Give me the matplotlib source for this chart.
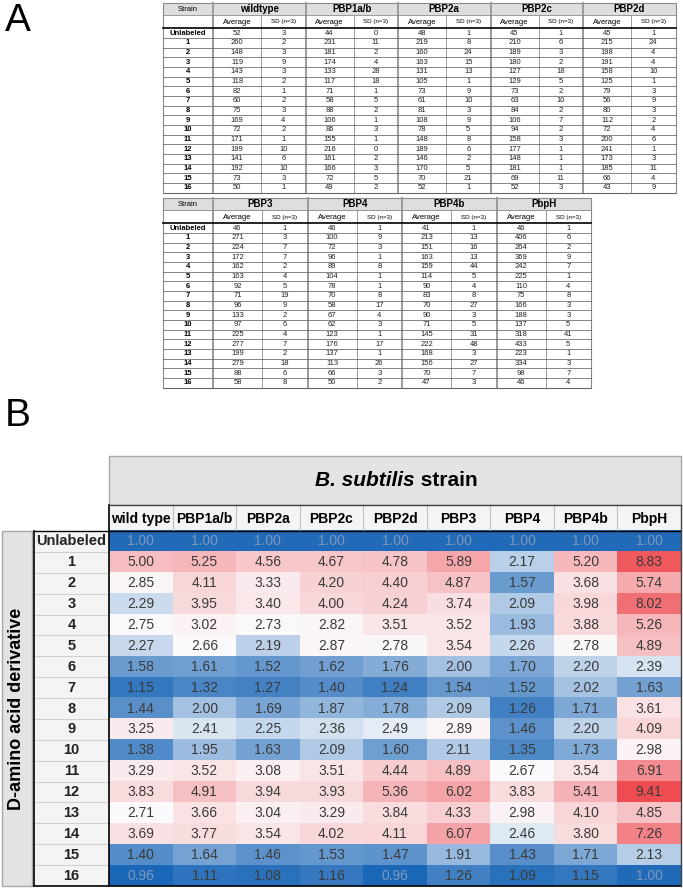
import numpy as np
import matplotlib
matplotlib.use('Agg')
import matplotlib.pyplot as plt
from matplotlib.colors import LinearSegmentedColormap, TwoSlopeNorm
from matplotlib.patches import Rectangle

plt.rcParams['font.family'] = ['Liberation Sans', 'DejaVu Sans']

row_labels = ['Unlabeled'] + [str(i) for i in range(1, 17)]

# Panel A, first table
strains_a1 = ['wildtype', 'PBP1a/b', 'PBP2a', 'PBP2c', 'PBP2d']
avg_wt = [52, 260, 148, 119, 143, 118, 82, 60, 75, 169, 72, 171, 199, 141, 192, 73, 50]
sd_wt = [3, 2, 3, 9, 3, 2, 1, 2, 3, 4, 2, 1, 10, 6, 10, 3, 1]
avg_1ab = [44, 231, 181, 174, 133, 117, 71, 58, 88, 106, 86, 155, 216, 161, 166, 72, 49]
sd_1ab = [0, 11, 2, 4, 28, 18, 1, 5, 2, 1, 3, 1, 0, 2, 3, 5, 2]
avg_2a = [48, 219, 160, 163, 131, 105, 73, 61, 81, 108, 78, 148, 189, 146, 170, 70, 52]
sd_2a = [1, 8, 24, 15, 13, 1, 9, 10, 3, 9, 5, 8, 6, 2, 5, 21, 1]
avg_2c = [45, 210, 189, 180, 127, 129, 73, 63, 84, 106, 94, 158, 177, 148, 181, 69, 52]
sd_2c = [1, 6, 3, 2, 18, 5, 2, 10, 2, 7, 2, 3, 1, 1, 1, 11, 3]
avg_2d = [45, 215, 198, 191, 158, 125, 79, 56, 80, 112, 72, 200, 241, 173, 185, 66, 43]
sd_2d = [1, 24, 4, 4, 10, 1, 3, 9, 3, 2, 4, 6, 1, 3, 11, 4, 9]

# Panel A, second table
strains_a2 = ['PBP3', 'PBP4', 'PBP4b', 'PbpH']
avg_3 = [46, 271, 224, 172, 162, 163, 92, 71, 96, 133, 97, 225, 277, 199, 279, 88, 58]
sd_3 = [1, 3, 7, 7, 2, 4, 5, 19, 9, 2, 6, 4, 7, 2, 18, 6, 8]
avg_4 = [46, 100, 72, 96, 89, 104, 78, 70, 58, 67, 62, 123, 176, 137, 113, 66, 50]
sd_4 = [1, 9, 3, 1, 8, 1, 1, 8, 17, 4, 3, 1, 17, 1, 26, 3, 2]
avg_4b = [41, 213, 151, 163, 159, 114, 90, 83, 70, 90, 71, 145, 222, 168, 156, 70, 47]
sd_4b = [1, 13, 16, 13, 44, 5, 4, 8, 27, 3, 5, 31, 48, 3, 27, 7, 3]
avg_h = [46, 406, 264, 369, 242, 225, 110, 75, 166, 188, 137, 318, 433, 223, 334, 98, 46]
sd_h = [1, 6, 2, 9, 7, 1, 4, 8, 3, 3, 5, 41, 5, 1, 3, 7, 4]

# Panel B, fold labeling over unlabeled
strains_b = ['wild type', 'PBP1a/b', 'PBP2a', 'PBP2c', 'PBP2d', 'PBP3', 'PBP4', 'PBP4b', 'PbpH']
fold = [
    [1.00, 1.00, 1.00, 1.00, 1.00, 1.00, 1.00, 1.00, 1.00],
    [5.00, 5.25, 4.56, 4.67, 4.78, 5.89, 2.17, 5.20, 8.83],
    [2.85, 4.11, 3.33, 4.20, 4.40, 4.87, 1.57, 3.68, 5.74],
    [2.29, 3.95, 3.40, 4.00, 4.24, 3.74, 2.09, 3.98, 8.02],
    [2.75, 3.02, 2.73, 2.82, 3.51, 3.52, 1.93, 3.88, 5.26],
    [2.27, 2.66, 2.19, 2.87, 2.78, 3.54, 2.26, 2.78, 4.89],
    [1.58, 1.61, 1.52, 1.62, 1.76, 2.00, 1.70, 2.20, 2.39],
    [1.15, 1.32, 1.27, 1.40, 1.24, 1.54, 1.52, 2.02, 1.63],
    [1.44, 2.00, 1.69, 1.87, 1.78, 2.09, 1.26, 1.71, 3.61],
    [3.25, 2.41, 2.25, 2.36, 2.49, 2.89, 1.46, 2.20, 4.09],
    [1.38, 1.95, 1.63, 2.09, 1.60, 2.11, 1.35, 1.73, 2.98],
    [3.29, 3.52, 3.08, 3.51, 4.44, 4.89, 2.67, 3.54, 6.91],
    [3.83, 4.91, 3.94, 3.93, 5.36, 6.02, 3.83, 5.41, 9.41],
    [2.71, 3.66, 3.04, 3.29, 3.84, 4.33, 2.98, 4.10, 4.85],
    [3.69, 3.77, 3.54, 4.02, 4.11, 6.07, 2.46, 3.80, 7.26],
    [1.40, 1.64, 1.46, 1.53, 1.47, 1.91, 1.43, 1.71, 2.13],
    [0.96, 1.11, 1.08, 1.16, 0.96, 1.26, 1.09, 1.15, 1.00],
]


def draw_table(ax, x0, y0, strains, avgs, sds, label_w=50, group_w=92.5,
               h1=12.5, h2=13, rh=9.65):
    n = len(row_labels)
    x_end = x0 + label_w + len(strains) * group_w
    y_data = y0 + h1 + h2
    y_end = y_data + n * rh

    # header backgrounds
    ax.add_patch(Rectangle((x0, y0), x_end - x0, h1, fc='#dedede', ec='none'))
    ax.text(x0 + label_w / 2, y0 + h1 / 2, 'Strain', fontsize=5.5,
            ha='center', va='center')
    for g, name in enumerate(strains):
        gx = x0 + label_w + g * group_w
        ax.text(gx + group_w / 2, y0 + h1 / 2, name, fontsize=7, weight='bold',
                ha='center', va='center')
        ax.text(gx + group_w * 0.26, y0 + h1 + h2 / 2, 'Average', fontsize=5.5,
                ha='center', va='center')
        ax.text(gx + group_w * 0.76, y0 + h1 + h2 / 2, 'SD (n=3)', fontsize=4.5,
                ha='center', va='center')
        for i in range(n):
            y = y_data + (i + 0.5) * rh
            ax.text(gx + group_w * 0.26, y, str(avgs[g][i]), fontsize=5.5,
                    ha='center', va='center', color='#222222')
            ax.text(gx + group_w * 0.76, y, str(sds[g][i]), fontsize=5.5,
                    ha='center', va='center', color='#222222')
        # vertical separators
        ax.plot([gx, gx], [y0, y_end], color='#9a9a9a', lw=1.4)
        ax.plot([gx + group_w * 0.52] * 2, [y0 + h1, y_end], color='#777777', lw=0.5)
    for i, lab in enumerate(row_labels):
        ax.text(x0 + label_w / 2, y_data + (i + 0.5) * rh, lab, fontsize=5.5,
                weight='bold', ha='center', va='center')
        ax.plot([x0, x_end], [y_data + (i + 1) * rh] * 2, color='#555555', lw=0.5)
    ax.plot([x0, x_end], [y0 + h1] * 2, color='#8a8a8a', lw=0.6)
    ax.plot([x0, x_end], [y_data] * 2, color='black', lw=1.2)
    ax.add_patch(Rectangle((x0, y0), x_end - x0, y_end - y0, fc='none',
                           ec='#8a8a8a', lw=0.8))


fig = plt.figure(figsize=(6.83, 8.88), dpi=100)
ax = fig.add_axes([0, 0, 1, 1])
ax.set_xlim(0, 683)
ax.set_ylim(888, 0)
ax.axis('off')

# ---- Panel A ----
ax.text(5, 3, 'A', fontsize=28, ha='left', va='top')
draw_table(ax, 163, 3, strains_a1,
           [avg_wt, avg_1ab, avg_2a, avg_2c, avg_2d],
           [sd_wt, sd_1ab, sd_2a, sd_2c, sd_2d])
draw_table(ax, 163, 198, strains_a2,
           [avg_3, avg_4, avg_4b, avg_h],
           [sd_3, sd_4, sd_4b, sd_h], group_w=94.5)

# ---- Panel B ----
ax.text(5, 398, 'B', fontsize=28, ha='left', va='top')

fold = np.array(fold)
x_lab0, x_dat0, x_dat1 = 34, 109, 681
y_band, y_hdr, y_dat0, y_dat1 = 456, 505, 531, 886
cw = (x_dat1 - x_dat0) / fold.shape[1]
rh = (y_dat1 - y_dat0) / fold.shape[0]

# strain header band
ax.add_patch(Rectangle((x_dat0, y_band), x_dat1 - x_dat0, y_hdr - y_band,
                       fc='#e3e3e3', ec='#a8a8a8', lw=1.0))
x_mid = (x_dat0 + x_dat1) / 2 + 20
ax.text(x_mid, (y_band + y_hdr) / 2, 'B. subtilis', fontsize=15, weight='bold',
        style='italic', ha='right', va='center')
ax.text(x_mid, (y_band + y_hdr) / 2, ' strain', fontsize=15, weight='bold',
        ha='left', va='center')

# column headers
ax.add_patch(Rectangle((x_dat0, y_hdr), x_dat1 - x_dat0, y_dat0 - y_hdr,
                       fc='#f4f4f4', ec='none'))
for j, name in enumerate(strains_b):
    ax.text(x_dat0 + (j + 0.5) * cw, (y_hdr + y_dat0) / 2 + 1, name, fontsize=10,
            weight='bold', ha='center', va='center')
    if j > 0:
        ax.plot([x_dat0 + j * cw] * 2, [y_hdr, y_dat0], color='#c0c0c0', lw=0.8)

# side band with axis title
ax.add_patch(Rectangle((2, y_dat0), x_lab0 - 4, y_dat1 - y_dat0,
                       fc='#e3e3e3', ec='#a8a8a8', lw=1.0))
ax.text((2 + x_lab0 - 2) / 2, (y_dat0 + y_dat1) / 2, 'D-amino acid derivative',
        fontsize=13, weight='bold', rotation=90, ha='center', va='center')

# row labels
ax.add_patch(Rectangle((x_lab0, y_dat0), x_dat0 - x_lab0, y_dat1 - y_dat0,
                       fc='#f4f4f4', ec='none'))
for i, lab in enumerate(row_labels):
    ax.text((x_lab0 + x_dat0) / 2, y_dat0 + (i + 0.5) * rh, lab, fontsize=10.5,
            weight='bold', ha='center', va='center', color='#222222')
    if i > 0:
        ax.plot([x_lab0, x_dat0], [y_dat0 + i * rh] * 2, color='#d0d0d0', lw=0.8)

# heatmap (Excel-like 3-colour scale, midpoint at the median)
cmap = LinearSegmentedColormap.from_list('bwr_xl', ['#1b67b7', '#fbfbfd', '#ee4c51'])
norm = TwoSlopeNorm(vmin=fold.min(), vcenter=np.median(fold), vmax=fold.max())
ax.imshow(fold, cmap=cmap, norm=norm, aspect='auto', interpolation='nearest',
          extent=[x_dat0, x_dat1, y_dat1, y_dat0], zorder=1)
for i in range(fold.shape[0]):
    for j in range(fold.shape[1]):
        r, g, b, _ = cmap(norm(fold[i, j]))
        lum = 0.299 * r + 0.587 * g + 0.114 * b
        color = '#7d97bb' if lum < 0.37 else '#3a3a3a'
        ax.text(x_dat0 + (j + 0.5) * cw, y_dat0 + (i + 0.5) * rh,
                f'{fold[i, j]:.2f}', fontsize=10, ha='center', va='center',
                color=color, zorder=3)

# frame lines
ax.plot([x_dat0, x_dat0], [y_hdr, y_dat1], color='black', lw=1.2, zorder=4)
ax.plot([x_dat0, x_dat1], [y_hdr, y_hdr], color='#444444', lw=1.0, zorder=4)
ax.plot([x_lab0, x_dat1], [y_dat0, y_dat0], color='black', lw=1.0, zorder=4)
ax.plot([x_lab0, x_lab0], [y_dat0, y_dat1], color='black', lw=1.2, zorder=4)
ax.plot([x_lab0, x_dat1], [y_dat1, y_dat1], color='black', lw=1.2, zorder=4)
ax.plot([x_dat1, x_dat1], [y_hdr, y_dat1], color='#444444', lw=1.0, zorder=4)

fig.savefig('out.png', dpi=100)
